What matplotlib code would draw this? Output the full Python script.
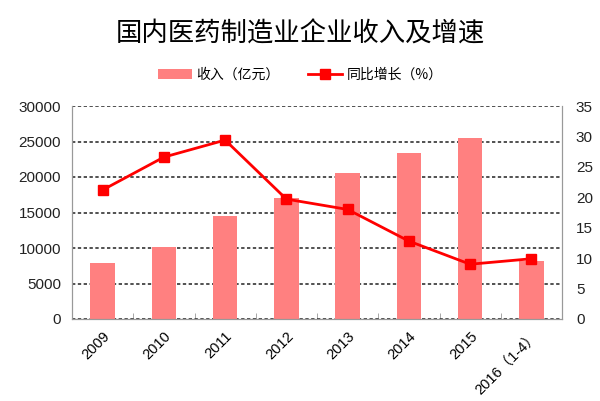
import numpy as np
from matplotlib import pyplot as plt
from matplotlib.ticker import FixedLocator

plt.rcParams['font.family'] = ['Liberation Sans', 'Noto Sans CJK SC', 'DejaVu Sans']

years = ['2009', '2010', '2011', '2012', '2013', '2014', '2015', '2016（1-4）']
revenue = [7850, 10100, 14500, 17000, 20600, 23400, 25500, 8200]
growth = [21.2, 26.6, 29.4, 19.7, 18.0, 12.8, 9.0, 9.9]

fig = plt.figure(figsize=(6, 4.01), dpi=100)
ax = fig.add_axes([72/600, 1-319/401, 490/600, 213/401])
ax2 = ax.twinx()

x = np.arange(len(years))
bars = ax.bar(x, revenue, width=0.4, color='#ff8080', zorder=2)
line, = ax2.plot(x, growth, color='#ff0000', lw=2, marker='s', ms=6.5)

ax.set_xlim(-0.5, len(years) - 0.5)
ax.set_ylim(0, 30000)
ax.set_yticks(range(0, 30001, 5000))
ax2.set_ylim(0, 35)
ax2.set_yticks(range(0, 36, 5))

ax.yaxis.grid(True, color='#333333', ls=(0, (2, 1.5)), lw=1.2, zorder=1)
ax.set_axisbelow(True)

ax.set_xticks(x)
ax.set_xticklabels(years, rotation=45, ha='right', rotation_mode='anchor', fontsize=10.5)
ax.xaxis.set_minor_locator(FixedLocator(np.arange(-0.5, len(years), 1)))
ax.tick_params(axis='x', which='major', length=0, pad=7)
ax.tick_params(axis='x', which='minor', length=4, direction='in', color='#999999')
ax.tick_params(axis='y', length=0, labelsize=11, pad=8, colors='#222222')
ax2.tick_params(axis='y', length=0, labelsize=11, pad=10, colors='#222222')

for a in (ax, ax2):
    a.spines['top'].set_visible(False)
    for s in ('left', 'right', 'bottom'):
        a.spines[s].set_color('#999999')

cjk = ['Noto Sans CJK SC', 'DejaVu Sans']
fig.text(0.5, 1-34/401, '国内医药制造业企业收入及增速', ha='center', va='center',
         fontsize=19, family=cjk)
fig.legend([bars, line], ['收入（亿元）', '同比增长（%）'], loc='center',
           bbox_to_anchor=(0.5, 1-75/401), ncol=2, frameon=False,
           handlelength=2.5, handletextpad=0.3, columnspacing=2,
           prop={'family': cjk, 'size': 10})

fig.savefig('out.png', dpi=100)
